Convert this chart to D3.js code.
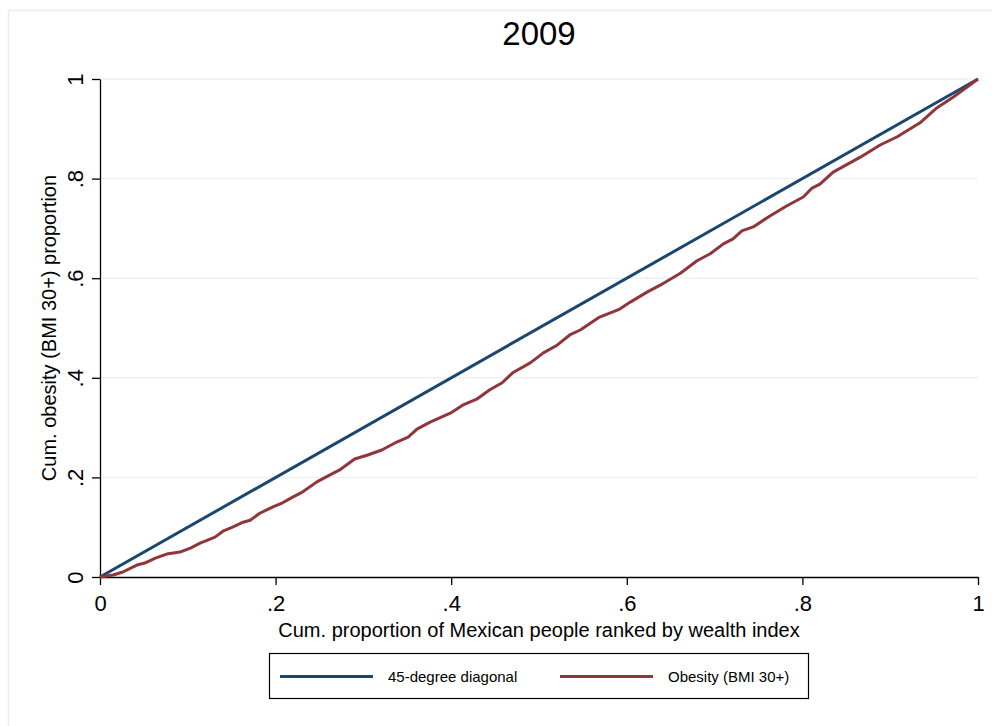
<!DOCTYPE html>
<html>
<head>
<meta charset="utf-8">
<script src="https://cdn.jsdelivr.net/npm/d3@7"></script>
<style>
  html, body { margin: 0; padding: 0; background: #ffffff; }
  svg { display: block; font-family: "Liberation Sans", Arial, Helvetica, sans-serif; }
</style>
</head>
<body>
<svg id="chart" width="992" height="726"></svg>
<script>
// Concentration curve of obesity (BMI 30+) across the wealth distribution, 2009
const chartTitle = "2009";
const xTitle = "Cum. proportion of Mexican people ranked by wealth index";
const yTitle = "Cum. obesity (BMI 30+) proportion";
const tickValues = [0, 0.2, 0.4, 0.6, 0.8, 1];
const tickLabels = ["0", ".2", ".4", ".6", ".8", "1"];
const seriesNames = ["45-degree diagonal", "Obesity (BMI 30+)"];

// diagonal (line of equality)
const diagX = [0, 1];
const diagY = [0, 1];

// cumulative population share (ranked poorest to richest)
const cumPop = [
  0, 0.015, 0.026, 0.042, 0.051, 0.063, 0.076, 0.091, 0.103, 0.114,
  0.131, 0.140, 0.151, 0.163, 0.171, 0.182, 0.197, 0.208, 0.220, 0.231,
  0.247, 0.262, 0.273, 0.290, 0.305, 0.321, 0.338, 0.351, 0.361, 0.376,
  0.399, 0.413, 0.429, 0.444, 0.458, 0.470, 0.490, 0.505, 0.521, 0.535,
  0.547, 0.569, 0.592, 0.604, 0.623, 0.638, 0.661, 0.680, 0.695, 0.710,
  0.721, 0.731, 0.744, 0.763, 0.782, 0.801, 0.811, 0.820, 0.835, 0.866,
  0.888, 0.908, 0.934, 0.953, 0.972, 1
];
// cumulative share of obese people
const cumObesity = [
  0, 0.004, 0.010, 0.024, 0.028, 0.038, 0.046, 0.050, 0.058, 0.068,
  0.080, 0.092, 0.100, 0.110, 0.114, 0.128, 0.141, 0.149, 0.161, 0.171,
  0.191, 0.205, 0.215, 0.237, 0.245, 0.255, 0.271, 0.281, 0.297, 0.311,
  0.329, 0.345, 0.357, 0.376, 0.390, 0.410, 0.430, 0.450, 0.466, 0.486,
  0.496, 0.522, 0.538, 0.552, 0.572, 0.586, 0.610, 0.635, 0.649, 0.669,
  0.679, 0.695, 0.703, 0.725, 0.745, 0.763, 0.781, 0.789, 0.813, 0.843,
  0.867, 0.884, 0.912, 0.942, 0.964, 1
];

const colors = ["#1a476f", "#90353b"];

const svg = d3.select("#chart");
const W = 992, H = 726;
const plot = { left: 100, right: 978, top: 79, bottom: 577 };

const x = d3.scaleLinear().domain([0, 1]).range([plot.left, plot.right]);
const y = d3.scaleLinear().domain([0, 1]).range([plot.bottom, plot.top]);

// graph region outline
svg.append("rect")
  .attr("x", 8.5).attr("y", 10.5)
  .attr("width", W + 20).attr("height", H + 20)
  .attr("fill", "none")
  .attr("stroke", "#e6eef0")
  .attr("stroke-width", 1.5);

// title
svg.append("text")
  .attr("x", (plot.left + plot.right) / 2)
  .attr("y", 45)
  .attr("text-anchor", "middle")
  .attr("font-size", 33)
  .attr("fill", "#000")
  .text(chartTitle);

// horizontal grid lines
svg.append("g")
  .selectAll("line")
  .data(tickValues.filter(v => v > 0))
  .join("line")
  .attr("x1", plot.left).attr("x2", plot.right)
  .attr("y1", d => y(d)).attr("y2", d => y(d))
  .attr("stroke", "#eaf2f3")
  .attr("stroke-width", 1.5);

// axes
const fmt = d => tickLabels[tickValues.indexOf(d)];
const xAxis = svg.append("g")
  .attr("transform", `translate(0,${plot.bottom})`)
  .call(d3.axisBottom(x).tickValues(tickValues).tickFormat(fmt).tickSizeInner(8).tickSizeOuter(0).tickPadding(4));
const yAxis = svg.append("g")
  .attr("transform", `translate(${plot.left},0)`)
  .call(d3.axisLeft(y).tickValues(tickValues).tickFormat(fmt).tickSizeInner(8).tickSizeOuter(0).tickPadding(4));

[xAxis, yAxis].forEach(g => {
  g.select(".domain").attr("stroke", "#000").attr("stroke-width", 1.3);
  g.selectAll(".tick line").attr("stroke", "#000").attr("stroke-width", 1.3);
  g.selectAll("text").attr("font-size", 22).attr("fill", "#000")
    .attr("font-family", "'Liberation Sans', Arial, sans-serif");
});
xAxis.selectAll("text").attr("dy", null).attr("y", 34);
yAxis.selectAll("text")
  .attr("x", null).attr("dy", null)
  .attr("text-anchor", "middle")
  .attr("transform", "translate(-17,0) rotate(-90)");

// axis titles
svg.append("text")
  .attr("x", (plot.left + plot.right) / 2)
  .attr("y", 637)
  .attr("text-anchor", "middle")
  .attr("font-size", 20)
  .attr("fill", "#000")
  .text(xTitle);

svg.append("text")
  .attr("transform", `translate(56,${(plot.top + plot.bottom) / 2}) rotate(-90)`)
  .attr("text-anchor", "middle")
  .attr("font-size", 20)
  .attr("fill", "#000")
  .text(yTitle);

// series
const line = d3.line().x(d => x(d[0])).y(d => y(d[1]));
const clip = svg.append("g");
clip.append("path")
  .datum(d3.zip(diagX, diagY))
  .attr("d", line)
  .attr("fill", "none")
  .attr("stroke", colors[0])
  .attr("stroke-width", 3);
clip.append("path")
  .datum(d3.zip(cumPop, cumObesity))
  .attr("d", line)
  .attr("fill", "none")
  .attr("stroke", colors[1])
  .attr("stroke-width", 3)
  .attr("stroke-linejoin", "round");

// legend
const legend = svg.append("g");
legend.append("rect")
  .attr("x", 269.5).attr("y", 653.5)
  .attr("width", 539).attr("height", 45)
  .attr("fill", "#fff")
  .attr("stroke", "#000")
  .attr("stroke-width", 1.2);
const legendItems = [
  { x1: 280, x2: 373, tx: 388 },
  { x1: 560, x2: 653, tx: 668 }
];
legendItems.forEach((it, i) => {
  legend.append("line")
    .attr("x1", it.x1).attr("x2", it.x2)
    .attr("y1", 676.5).attr("y2", 676.5)
    .attr("stroke", colors[i]).attr("stroke-width", 3);
  legend.append("text")
    .attr("x", it.tx).attr("y", 682)
    .attr("font-size", 15)
    .attr("fill", "#000")
    .text(seriesNames[i]);
});
</script>
</body>
</html>
